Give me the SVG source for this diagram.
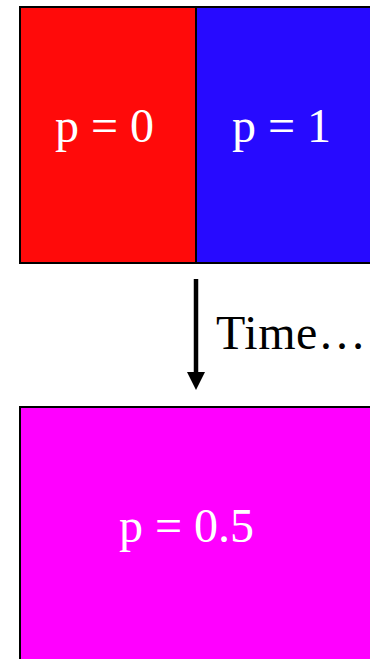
<svg xmlns="http://www.w3.org/2000/svg" width="370" height="659" viewBox="0 0 370 659">
<style>
.box{stroke:#000;stroke-width:2}
.lbl{font-family:"Liberation Serif","Times New Roman",serif;font-size:48px;fill:#fff}
.cap{font-family:"Liberation Serif","Times New Roman",serif;font-size:48px;fill:#000}
</style>
<defs>
<marker id="ah" markerUnits="userSpaceOnUse" markerWidth="20" markerHeight="20" refX="0" refY="9" orient="auto" viewBox="0 0 20 18">
<polygon points="0,0 18,9 0,18" fill="#000"/>
</marker>
</defs>
<rect width="370" height="659" fill="#fff"/>
<g id="node-p0">
<rect class="box" x="20" y="7" width="176" height="256" fill="#FF0A0A"/>
<text class="lbl" x="55" y="142">p = 0</text>
</g>
<g id="node-p1">
<rect class="box" x="196" y="7" width="180" height="256" fill="#270AFF"/>
<text class="lbl" x="232" y="142">p = 1</text>
</g>
<g id="connectors">
<line x1="196" y1="279" x2="196" y2="372" stroke="#000" stroke-width="4.5" marker-end="url(#ah)"/>
<text class="cap" x="216" y="349" textLength="150" lengthAdjust="spacing">Time…</text>
</g>
<g id="node-p05">
<rect class="box" x="20" y="407" width="356" height="260" fill="#FF00FF"/>
<text class="lbl" x="119" y="542">p = 0.5</text>
</g>
</svg>
